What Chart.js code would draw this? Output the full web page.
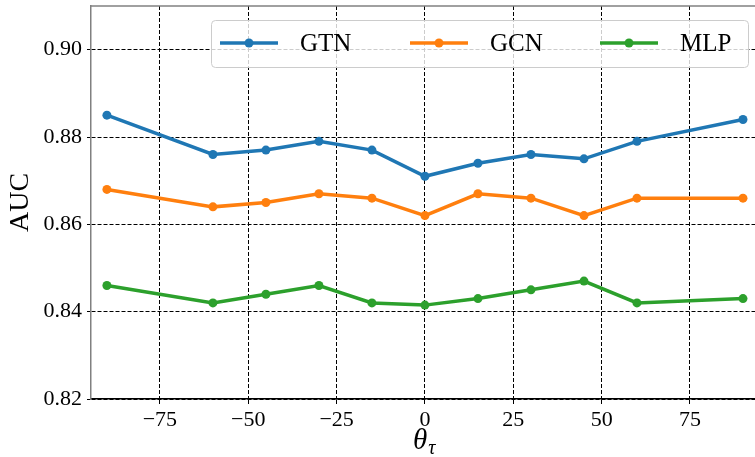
<!DOCTYPE html>
<html>
<head>
<meta charset="utf-8">
<script src="https://cdn.jsdelivr.net/npm/chart.js@4.4.0/dist/chart.umd.min.js"></script>
<style>
  html, body { margin: 0; padding: 0; background: #fff; }
  #wrap { width: 755px; height: 457px; }
</style>
</head>
<body>
<div id="wrap"><canvas id="chart_auc"></canvas></div>
<script>
// Data
const theta = [-90, -60, -45, -30, -15, 0, 15, 30, 45, 60, 90];
const aucGTN = [0.885, 0.876, 0.877, 0.879, 0.877, 0.871, 0.874, 0.876, 0.875, 0.879, 0.884];
const aucGCN = [0.868, 0.864, 0.865, 0.867, 0.866, 0.862, 0.867, 0.866, 0.862, 0.866, 0.866];
const aucMLP = [0.846, 0.842, 0.844, 0.846, 0.842, 0.8415, 0.843, 0.845, 0.847, 0.842, 0.843];
const seriesNames = ['GTN', 'GCN', 'MLP'];
const yTicks = [0.82, 0.84, 0.86, 0.88, 0.90];

const FONT = "'Liberation Serif', 'DejaVu Serif', serif";

function toPoints(ys) { // pair the x values with one series
    return theta.map((t, i) => ({x: t, y: ys[i]}));
}

function makeSet(label, ys, colour) {
    return {
        label: label,
        data: toPoints(ys),
        borderColor: colour,
        backgroundColor: colour,
        borderWidth: 3.5,
        pointRadius: 4.5,
        pointHoverRadius: 4.5,
        pointBorderWidth: 0,
        tension: 0
    };
}

function noPad(scale) { // keep the plot area where the figure has it
    scale.paddingTop = 0;
    scale.paddingBottom = 0;
    scale.paddingLeft = 0;
    scale.paddingRight = 0;
}

// top spine, x title with subscript and the legend box
const extras = {
    id: 'extras',
    afterDraw(chart) {
        const ctx = chart.ctx;
        const area = chart.chartArea;
        ctx.save();
        // top spine
        ctx.strokeStyle = '#808080';
        ctx.lineWidth = 1.5;
        ctx.beginPath();
        ctx.moveTo(area.left, area.top);
        ctx.lineTo(area.right, area.top);
        ctx.stroke();

        // x title: theta with subscript tau
        ctx.fillStyle = '#000';
        ctx.textBaseline = 'alphabetic';
        ctx.font = "italic 29px " + FONT;
        const cx = chart.scales.x.getPixelForValue(0) - 12;
        ctx.textAlign = 'left';
        ctx.fillText('\u03b8', cx, 449);
        const w = ctx.measureText('\u03b8').width;
        ctx.font = "italic 20px " + FONT;
        ctx.fillText('\u03c4', cx + w + 1, 454);

        // legend
        const bx = 211, by = 20, bw = 537, bh = 47;
        ctx.fillStyle = 'rgba(255,255,255,0.8)';
        ctx.strokeStyle = '#cccccc';
        ctx.lineWidth = 1;
        ctx.beginPath();
        ctx.roundRect(bx + 0.5, by + 0.5, bw, bh, 4);
        ctx.fill();
        ctx.stroke();
        const lineX = [220, 410, 600];
        const ly = 43;
        chart.data.datasets.forEach((ds, i) => {
            ctx.strokeStyle = ds.borderColor;
            ctx.fillStyle = ds.borderColor;
            ctx.lineWidth = 3.5;
            ctx.beginPath();
            ctx.moveTo(lineX[i], ly);
            ctx.lineTo(lineX[i] + 58, ly);
            ctx.stroke();
            ctx.beginPath();
            ctx.arc(lineX[i] + 29, ly, 4.5, 0, Math.PI * 2);
            ctx.fill();
            ctx.fillStyle = '#000';
            ctx.font = "25px " + FONT;
            ctx.textAlign = 'left';
            ctx.fillText(ds.label, lineX[i] + 80, 51);
        });
        ctx.restore();
    }
};

const ctx = document.getElementById('chart_auc').getContext('2d');
const aucChart = new Chart(ctx, {
    type: 'line',
    data: {
        datasets: [
            makeSet(seriesNames[0], aucGTN, '#1f77b4'),
            makeSet(seriesNames[1], aucGCN, '#ff7f0e'),
            makeSet(seriesNames[2], aucMLP, '#2ca02c')
        ]
    },
    options: {
        responsive: true,
        maintainAspectRatio: false,
        animation: false,
        devicePixelRatio: 1,
        layout: { autoPadding: false, padding: { top: 6, right: 0, left: 0, bottom: 0 } },
        plugins: {
            legend: { display: false },
            tooltip: { enabled: false }
        },
        scales: {
            x: {
                type: 'linear',
                min: -94.5,
                max: 93.4,
                afterFit: (scale) => { scale.height = 58; noPad(scale); },
                ticks: {
                    stepSize: 25,
                    includeBounds: false,
                    autoSkip: false,
                    maxRotation: 0,
                    padding: 3,
                    color: '#000',
                    font: { family: FONT, size: 22 },
                    callback: (v) => String(v).replace('-', '\u2212')
                },
                grid: {
                    color: '#000',
                    lineWidth: 1,
                    tickLength: 5,
                    tickColor: '#000',
                    tickBorderDash: [],
                    tickWidth: 1
                },
                border: { display: true, color: '#000', width: 1.5, dash: [4, 2] }
            },
            y: {
                type: 'linear',
                min: 0.82,
                max: 0.91,
                afterFit: (scale) => { scale.width = 91; noPad(scale); },
                afterBuildTicks: (scale) => {
                    scale.ticks = yTicks.map(v => ({value: v}));
                },
                ticks: {
                    padding: 5,
                    color: '#000',
                    font: { family: FONT, size: 22 },
                    callback: (v) => v.toFixed(2)
                },
                grid: {
                    color: '#000',
                    lineWidth: 1,
                    tickLength: 4,
                    tickColor: '#000',
                    tickBorderDash: [],
                    tickWidth: 1
                },
                border: { display: true, color: '#808080', width: 1.5, dash: [4, 2] },
                title: {
                    display: true,
                    text: 'AUC',
                    color: '#000',
                    font: { family: FONT, size: 28 },
                    padding: { top: 4, bottom: 0 }
                }
            }
        }
    },
    plugins: [extras]
});
</script>
</body>
</html>
